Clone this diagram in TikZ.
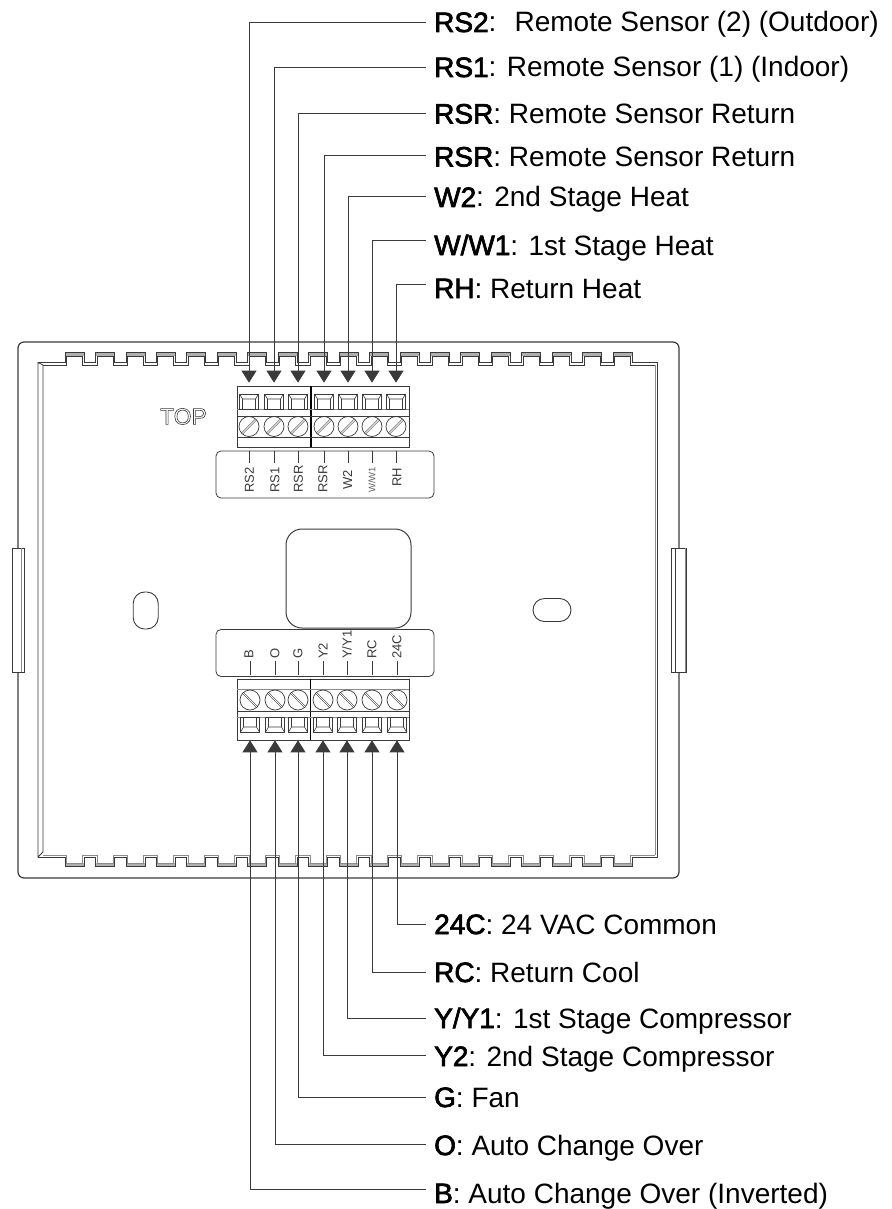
\documentclass[tikz,border=0pt]{standalone}
\usepackage{fontspec}
\setmainfont[BoldFont={Liberation Sans},BoldFeatures={FakeBold=2.4}]{Liberation Sans}
\usepackage{xcolor}
\usetikzlibrary{arrows.meta}
\definecolor{inkdark}{HTML}{3A3A3A}
\definecolor{inkgray}{HTML}{8C8C8C}

\begin{document}
\begin{tikzpicture}[x=1pt,y=-1pt,
  wirelabel/.style={shape=rectangle,anchor=west,inner ysep=0pt,inner xsep=8pt,
    text height=20pt,text depth=0pt,font=\fontsize{28}{30}\selectfont},
  feedtop/.style={draw=inkdark,line width=0.8pt,shorten >=11pt,-{Triangle[length=12pt,width=15pt]}},
  feedbottom/.style={draw=inkdark,line width=0.8pt,shorten >=8pt,-{Triangle[length=12pt,width=15pt]}},
  outline/.style={draw=inkdark,line width=1.2pt},
  thinline/.style={draw=inkdark,line width=0.8pt},
  softline/.style={draw=inkgray,line width=0.8pt},
  toothfill/.style={fill=inkgray!70,draw=none},
  block/.style={shape=rectangle,draw=inkdark,line width=1pt,minimum width=172pt,minimum height=61pt,inner sep=0pt},
  strip/.style={shape=rectangle,rounded corners=5pt,draw=inkdark,line width=0.8pt,minimum width=218pt,minimum height=47pt,inner sep=0pt},
  tab/.style={shape=rectangle,draw=inkdark,fill=white,line width=0.9pt,minimum height=124pt,inner sep=0pt},
  slot/.style={shape=rectangle,draw=inkdark,line width=0.9pt,rounded corners=11.5pt,inner sep=0pt},
  stripname/.style={rotate=90,inner sep=0pt,text=inkdark,font=\fontsize{13}{13}\selectfont},
  screwup/.style={shape=circle,draw=inkdark,line width=0.7pt,minimum size=20pt,inner sep=0pt,path picture={
    \draw[double=white,double distance=0.9pt,draw=inkdark,line width=0.6pt]
     (path picture bounding box.south west) -- (path picture bounding box.north east);
    }},
  screwdown/.style={shape=circle,draw=inkdark,line width=0.7pt,minimum size=20pt,inner sep=0pt,path picture={
    \draw[double=white,double distance=0.9pt,draw=inkdark,line width=0.6pt]
     (path picture bounding box.north west) -- (path picture bounding box.south east);
    }},
  windowup/.style={shape=rectangle,draw=inkdark,line width=0.7pt,minimum width=19pt,minimum height=15pt,inner sep=0pt,path picture={
    \draw[inkdark,line width=0.6pt]
     (path picture bounding box.north west) -- ++(3,5) -- ++(13,0) -- (path picture bounding box.north east)
     (path picture bounding box.south west) ++(3,0) -- ++(0,-10)
     (path picture bounding box.south east) ++(-3,0) -- ++(0,-10);
    }},
  windowdown/.style={shape=rectangle,draw=inkdark,line width=0.7pt,minimum width=19pt,minimum height=15pt,inner sep=0pt,path picture={
    \draw[inkdark,line width=0.6pt]
     (path picture bounding box.south west) -- ++(3,-5) -- ++(13,0) -- (path picture bounding box.south east)
     (path picture bounding box.north west) ++(3,0) -- ++(0,10)
     (path picture bounding box.north east) ++(-3,0) -- ++(0,10);
    }}]
    %\draw[help lines] (0,0) grid (891,1209); % Only for Development
    \useasboundingbox (0,0) rectangle (891,1209);

    % case
    \draw[outline,rounded corners=6pt] (18,342) rectangle (679,878);
    \node[tab,minimum width=12.5pt] (tabLeft) at (18.2,610) {};
    \draw[softline] (21.5,548) -- (21.5,672);
    \node[tab,minimum width=15pt] (tabRight) at (678.5,610) {};
    \draw[thinline] (675,548) -- (675,672);
    \draw[draw=inkgray,line width=1.6pt] (685.5,548) -- (685.5,672);

    % rails and teeth
    \foreach \k in {0,...,18} {
      \fill[toothfill] (65+30.45*\k,352) rectangle (84+30.45*\k,356);
      \fill[toothfill] (65+30.45*\k,863) rectangle (84+30.45*\k,866);
    }
    \draw[thinline] (43,852) -- (43,365) -- (38,362.5) -- (38,857) -- (43,852);
    \draw[softline] (655,365) -- (655,855);
    \draw[thinline] (657.5,362.5) -- (657.5,857);
    \draw[thinline] (38,362.5)
      foreach \k in {0,...,18} {
        -- (65+30.45*\k,362.5) -- (65+30.45*\k,352) -- (84+30.45*\k,352) -- (84+30.45*\k,362.5)
      } -- (657.5,362.5);
    \draw[thinline] (43,365.5)
      foreach \k in {0,...,18} {
        -- (66.5+30.45*\k,365.5) -- (66.5+30.45*\k,356) -- (82.5+30.45*\k,356) -- (82.5+30.45*\k,365.5)
      } -- (655,365.5);
    \draw[thinline] (38,857.5)
      foreach \k in {0,...,18} {
        -- (65+30.45*\k,857.5) -- (65+30.45*\k,866) -- (84+30.45*\k,866) -- (84+30.45*\k,857.5)
      } -- (657.5,857.5);
    \draw[softline] (43,855)
      foreach \k in {0,...,18} {
        -- (66.5+30.45*\k,855) -- (66.5+30.45*\k,863) -- (82.5+30.45*\k,863) -- (82.5+30.45*\k,855)
      } -- (655,855);

    % slots and opening
    \node[slot,minimum width=25pt,minimum height=37pt] (slotLeft) at (145.7,610.5) {};
    \node[slot,minimum width=38pt,minimum height=23pt] (slotRight) at (552,610) {};
    \node[shape=rectangle,rounded corners=16pt,draw=inkdark,line width=1pt,
      minimum width=125pt,minimum height=99pt,inner sep=0pt] (opening) at (348.5,578.5) {};

    \node[inner sep=0pt,text=inkdark,font=\fontsize{23}{23}\selectfont] (topMark) at (183.5,416.5)
      {\special{pdf:code q 1 Tr 0.6 w}TOP\special{pdf:code Q}};

    % upper terminal block
    \node[block] (blockUp) at (323,416.5) {};
    \draw[draw=black,line width=1.6pt] (311,386) -- (311,447);
    \draw[softline] (237,409) -- (409,409);
    \draw[thinline] (237,416) -- (409,416);
    \draw[thinline] (237,437) -- (409,437);
    \node[strip] (stripUp) at (325,474.5) {};
    \foreach \tname/\tx in {RSii/249,RSi/274,RSRa/298,RSRb/324,Wii/348,Wi/372,RH/396} {
      \node[windowup] (win\tname) at (\tx,401.5) {};
      \node[screwup] (screw\tname) at (\tx,426.5) {};
      \draw[thinline] (\tx,451) -- (\tx,463);
    }
    \node[stripname,anchor=west] (nameRSii) at (249.5,493) {RS2};
    \node[stripname,anchor=west] (nameRSi) at (275,493) {RS1};
    \node[stripname,anchor=west] (nameRSRa) at (298.5,493) {RSR};
    \node[stripname,anchor=west] (nameRSRb) at (323,493) {RSR};
    \node[stripname] (nameWii) at (347.5,480) {W2};
    \node[stripname,text=inkdark!80,font=\fontsize{9.5}{10}\selectfont] (nameWi) at (372,480) {W/W1};
    \node[stripname] (nameRH) at (397,477.5) {RH};

    % lower terminal block
    \node[block] (blockDown) at (323,709.5) {};
    \draw[draw=black,line width=1.6pt] (310.5,679) -- (310.5,740);
    \draw[softline] (237,689) -- (409,689);
    \draw[thinline] (237,711) -- (409,711);
    \draw[softline] (237,717) -- (409,717);
    \node[strip] (stripDown) at (325,653) {};
    \foreach \tname/\tx in {B/250,O/275,G/298,Yii/323,Yi/347,RC/372,C/397} {
      \node[windowdown] (win\tname) at (\tx,724.5) {};
      \node[screwdown] (screw\tname) at (\tx,700) {};
      \draw[thinline] (\tx,661) -- (\tx,675);
    }
    \node[stripname,anchor=west] (nameB) at (249,659) {B};
    \node[stripname,anchor=west] (nameO) at (275,659) {O};
    \node[stripname,anchor=west] (nameG) at (298,659) {G};
    \node[stripname,anchor=west] (nameYii) at (323,659) {Y2};
    \node[stripname,anchor=west] (nameYi) at (347,659) {Y/Y1};
    \node[stripname,anchor=west] (nameRC) at (372,659) {RC};
    \node[stripname,anchor=west] (nameC) at (397,659) {24C};

    % labels above
    \node[wirelabel] (lblRSii) at (426,22) {\textbf{RS2}:~ Remote Sensor (2) (Outdoor)};
    \node[wirelabel] (lblRSi) at (426,67) {\textbf{RS1}: Remote Sensor (1) (Indoor)};
    \node[wirelabel] (lblRSRa) at (426,113.5) {\textbf{RSR}: Remote Sensor Return};
    \node[wirelabel] (lblRSRb) at (426,156.5) {\textbf{RSR}: Remote Sensor Return};
    \node[wirelabel] (lblWii) at (426,197) {\textbf{W2}: 2nd Stage Heat};
    \node[wirelabel] (lblWi) at (426,245) {\textbf{W/W1}: 1st Stage Heat};
    \node[wirelabel] (lblRH) at (426,288) {\textbf{RH}: Return Heat};

    \draw[feedtop] (lblRSii.west) -| (winRSii.north);
    \draw[feedtop] (lblRSi.west) -| (winRSi.north);
    \draw[feedtop] (lblRSRa.west) -| (winRSRa.north);
    \draw[feedtop] ([yshift=1.5pt]lblRSRb.west) -| (winRSRb.north);
    \draw[feedtop] ([yshift=1pt]lblWii.west) -| (winWii.north);
    \draw[feedtop] ([yshift=5pt]lblWi.west) -| (winWi.north);
    \draw[feedtop] ([yshift=4pt]lblRH.west) -| (winRH.north);

    % labels below
    \node[wirelabel] (lblC) at (426,924) {\textbf{24C}: 24 VAC Common};
    \node[wirelabel] (lblRC) at (426,972) {\textbf{RC}: Return Cool};
    \node[wirelabel] (lblYi) at (426,1018) {\textbf{Y/Y1}: 1st Stage Compressor};
    \node[wirelabel] (lblYii) at (426,1056) {\textbf{Y2}: 2nd Stage Compressor};
    \node[wirelabel] (lblG) at (426,1097) {\textbf{G}: Fan};
    \node[wirelabel] (lblO) at (426,1145) {\textbf{O}: Auto Change Over};
    \node[wirelabel] (lblB) at (426,1193) {\textbf{B}: Auto Change Over (Inverted)};

    \draw[feedbottom] (lblC.west) -| (winC.south);
    \draw[feedbottom] (lblRC.west) -| (winRC.south);
    \draw[feedbottom] (lblYi.west) -| (winYi.south);
    \draw[feedbottom] ([yshift=1pt]lblYii.west) -| (winYii.south);
    \draw[feedbottom] (lblG.west) -| (winG.south);
    \draw[feedbottom] ([yshift=1pt]lblO.west) -| (winO.south);
    \draw[feedbottom] ([yshift=4pt]lblB.west) -| (winB.south);
  \end{tikzpicture}
\end{document}
